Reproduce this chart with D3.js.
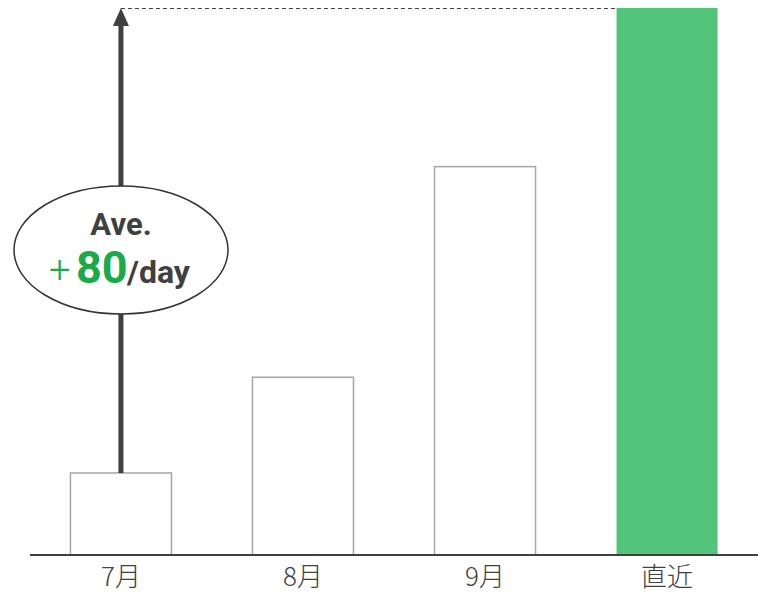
<!DOCTYPE html>
<html>
<head>
<meta charset="utf-8">
<script src="https://cdn.jsdelivr.net/npm/d3@7"></script>
<style>
  body { margin: 0; background: #fff; }
  text { font-family: "Noto Sans CJK JP", "Noto Sans", sans-serif; }
</style>
</head>
<body>
<div id="chart"></div>
<script>
// data
var months = ["7月", "8月", "9月", "直近"];
var counts = [15, 32.5, 71, 100];
var highlight = ["直近"];

var width = 758, height = 597;
var baseY = 555, topY = 8;

var svg = d3.select("#chart")
  .append("svg")
    .attr("width", width)
    .attr("height", height);

var x = d3.scaleBand()
  .domain(months)
  .range([30, 758])
  .paddingInner(0.445)
  .paddingOuter(0.222);

var y = d3.scaleLinear()
  .domain([0, 100])
  .range([baseY, topY]);

// bars
svg.selectAll("rect.bar")
  .data(months)
  .enter()
  .append("rect")
    .attr("class", "bar")
    .attr("x", function (d) { return x(d); })
    .attr("y", function (d, i) { return y(counts[i]); })
    .attr("width", x.bandwidth())
    .attr("height", function (d, i) { return baseY - y(counts[i]); })
    .style("fill", function (d) { return highlight.indexOf(d) >= 0 ? "#52c57a" : "#fff"; })
    .style("stroke", function (d) { return highlight.indexOf(d) >= 0 ? "none" : "#a6a6a6"; })
    .style("stroke-width", 1.5);

// x axis
var xAxis = svg.append("g")
  .attr("transform", "translate(0," + baseY + ")")
  .call(d3.axisBottom(x).tickSize(0).tickPadding(13));
xAxis.select(".domain").attr("stroke", "#404040").attr("stroke-width", 2)
  .attr("d", "M30,0H758");
xAxis.selectAll("text")
  .style("font-size", "26px")
  .style("fill", "#404040")
  .style("font-weight", "300")
  .style("font-family", "'Noto Sans CJK JP', sans-serif");

// dashed line from arrow tip to last bar
var cx = x(months[0]) + x.bandwidth() / 2;
var lastX = x(months[months.length - 1]);
svg.append("line")
  .attr("x1", cx).attr("x2", lastX)
  .attr("y1", y(counts[3]) + 0.5).attr("y2", y(counts[3]) + 0.5)
  .style("stroke", "#404040")
  .style("stroke-width", 1)
  .style("stroke-dasharray", "4,3");

// arrow
svg.append("line")
  .attr("x1", cx).attr("x2", cx)
  .attr("y1", y(counts[0])).attr("y2", y(counts[3]) + 16)
  .style("stroke", "#404040")
  .style("stroke-width", 5);
svg.append("path")
  .attr("d", "M" + cx + "," + y(counts[3]) + " L" + (cx - 8) + "," + (y(counts[3]) + 18) +
             " L" + (cx + 8) + "," + (y(counts[3]) + 18) + " Z")
  .style("fill", "#404040");

// ellipse label
svg.append("ellipse")
  .attr("cx", 121).attr("cy", 250)
  .attr("rx", 107).attr("ry", 64)
  .style("fill", "#fff")
  .style("stroke", "#333")
  .style("stroke-width", 1.5);

svg.append("text")
  .attr("x", 121).attr("y", 235)
  .attr("text-anchor", "middle")
  .style("font-family", "Roboto, sans-serif")
  .style("font-weight", "bold")
  .style("font-size", "31px")
  .style("fill", "#404040")
  .text("Ave.");

var t = svg.append("text")
  .attr("y", 283)
  .style("font-family", "Roboto, sans-serif");
t.append("tspan").text("+").attr("x", 49)
  .style("font-size", "38px").style("fill", "#1aaa4a").style("font-weight", "300");
t.append("tspan").text("80").attr("x", 76)
  .style("font-size", "45px").style("fill", "#1aaa4a").style("font-weight", "bold");
t.append("tspan").text("/day").attr("x", 127)
  .style("font-size", "32px").style("fill", "#404040").style("font-weight", "bold");
</script>
</body>
</html>
